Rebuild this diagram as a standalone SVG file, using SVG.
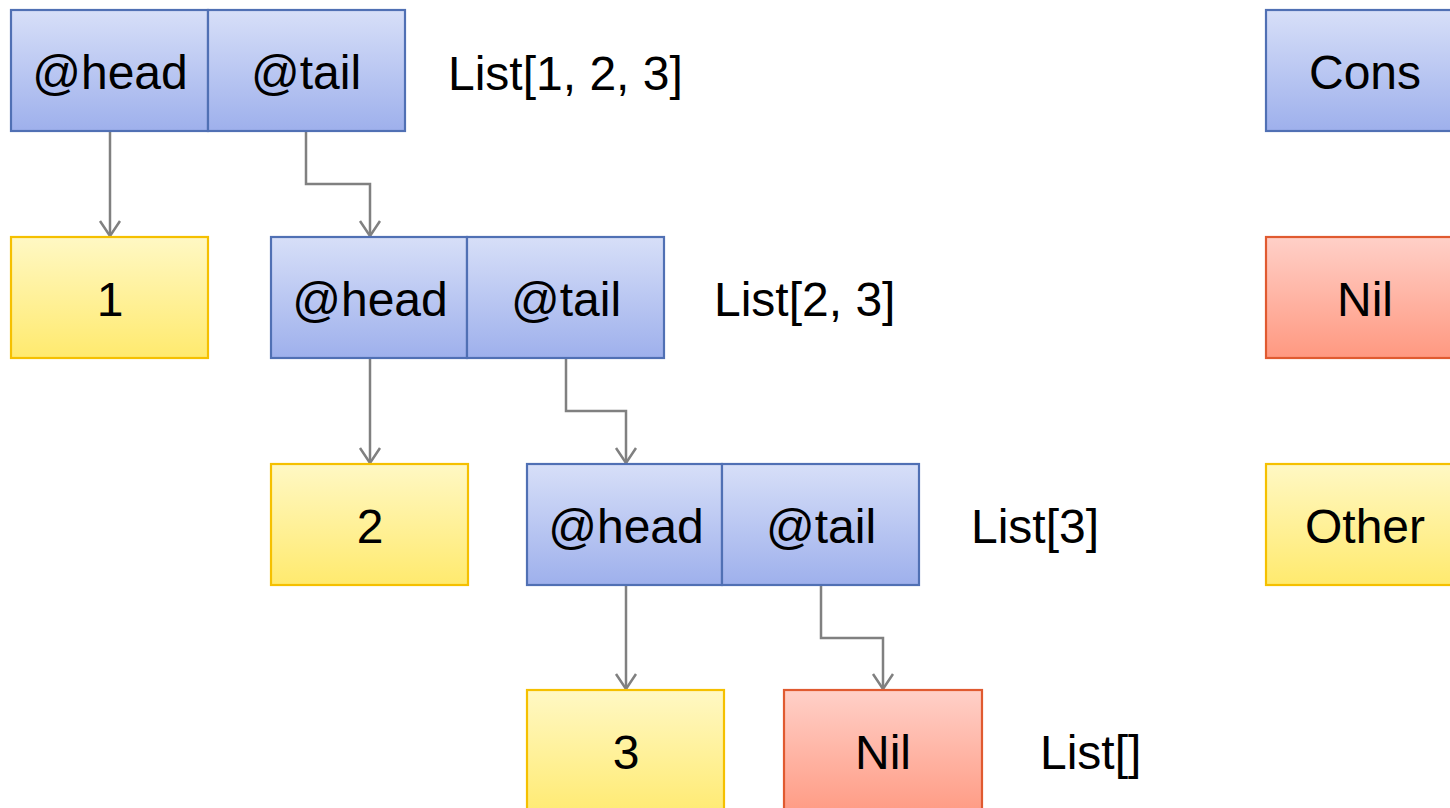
<svg xmlns="http://www.w3.org/2000/svg" width="1450" height="808" viewBox="0 0 1450 808">
<defs>
<linearGradient id="gb" x1="0" y1="0" x2="0" y2="1"><stop offset="0" stop-color="#d7dff8"/><stop offset="1" stop-color="#9eb0ec"/></linearGradient>
<linearGradient id="gy" x1="0" y1="0" x2="0" y2="1"><stop offset="0" stop-color="#fff8c4"/><stop offset="1" stop-color="#ffea6e"/></linearGradient>
<linearGradient id="gr" x1="0" y1="0" x2="0" y2="1"><stop offset="0" stop-color="#ffd0c8"/><stop offset="1" stop-color="#ff9880"/></linearGradient>
<marker id="arr" markerWidth="40" markerHeight="40" viewBox="-20 -20 40 40" refX="0" refY="0" orient="auto" markerUnits="userSpaceOnUse" overflow="visible">
<path d="M-15,-10 L0,0 L-15,10" fill="none" stroke="#808080" stroke-width="2.5"/>
</marker>
<style>
.b{fill:url(#gb);stroke:#5070b4;stroke-width:2.2}
.y{fill:url(#gy);stroke:#f5c000;stroke-width:2.2}
.r{fill:url(#gr);stroke:#e05a30;stroke-width:2.2}
text{font-family:"Liberation Sans",Arial,sans-serif;font-size:48px;fill:#000}
.c{text-anchor:middle}
.e{fill:none;stroke:#808080;stroke-width:2.5;marker-end:url(#arr)}
</style>
</defs>
<g id="connectors">
<path class="e" d="M110,131 V236"/>
<path class="e" d="M306,131 V184 H370 V236"/>
<path class="e" d="M370,358 V463"/>
<path class="e" d="M566,358 V411 H626 V463"/>
<path class="e" d="M626,585 V689"/>
<path class="e" d="M821,585 V638 H883 V689"/>
</g>
<g id="cons1">
<rect class="b" x="11" y="10" width="197" height="121"/>
<rect class="b" x="208" y="10" width="197" height="121"/>
<text class="c" x="110" y="89">@head</text>
<text class="c" x="306" y="89">@tail</text>
</g>
<g id="label1"><text x="448" y="90">List[1, 2, 3]</text></g>
<g id="val1">
<rect class="y" x="11" y="237" width="197" height="121"/>
<text class="c" x="110" y="316">1</text>
</g>
<g id="cons2">
<rect class="b" x="271" y="237" width="196" height="121"/>
<rect class="b" x="467" y="237" width="197" height="121"/>
<text class="c" x="370" y="316">@head</text>
<text class="c" x="566" y="316">@tail</text>
</g>
<g id="label2"><text x="714" y="316">List[2, 3]</text></g>
<g id="val2">
<rect class="y" x="271" y="464" width="197" height="121"/>
<text class="c" x="370" y="543">2</text>
</g>
<g id="cons3">
<rect class="b" x="527" y="464" width="195" height="121"/>
<rect class="b" x="722" y="464" width="197" height="121"/>
<text class="c" x="626" y="543">@head</text>
<text class="c" x="821" y="543">@tail</text>
</g>
<g id="label3"><text x="971" y="543">List[3]</text></g>
<g id="val3">
<rect class="y" x="527" y="690" width="197" height="130"/>
<text class="c" x="626" y="769">3</text>
</g>
<g id="nil">
<rect class="r" x="784" y="690" width="198" height="130"/>
<text class="c" x="883" y="769">Nil</text>
</g>
<g id="label4"><text x="1040" y="769">List[]</text></g>
<g id="legend-cons">
<rect class="b" x="1266" y="10" width="197" height="121"/>
<text class="c" x="1365" y="89">Cons</text>
</g>
<g id="legend-nil">
<rect class="r" x="1266" y="237" width="197" height="121"/>
<text class="c" x="1365" y="316">Nil</text>
</g>
<g id="legend-other">
<rect class="y" x="1266" y="464" width="197" height="121"/>
<text class="c" x="1365" y="543">Other</text>
</g>
</svg>
